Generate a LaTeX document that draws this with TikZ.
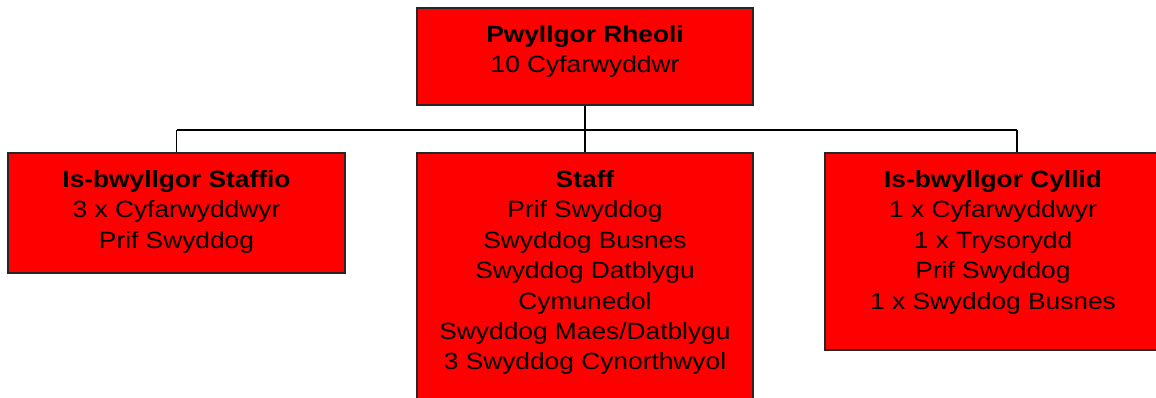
\documentclass[tikz,border=0pt]{standalone}
\usepackage{fontspec}
\setmainfont{Liberation Sans}[FakeStretch=1.12]
\begin{document}
\begin{tikzpicture}[x=1pt,y=-1pt,
  box/.style={draw=black!85,line width=1.6pt,fill=red,rectangle,inner sep=0pt},
  txt/.style={anchor=north,align=center,inner sep=0pt,font=\fontsize{23.5}{30.4}\selectfont},
  conn/.style={draw=black,line width=1.6pt}]
\clip (0,0) rectangle (1156,398);
\fill[white] (0,0) rectangle (1156,398);
\node[box,minimum width=336pt,minimum height=97pt] (top) at (585,56.5) {};
\node[box,minimum width=337pt,minimum height=120pt] (left) at (176.5,213) {};
\node[box,minimum width=336pt,minimum height=280pt] (mid) at (585,293) {};
\node[box,minimum width=336pt,minimum height=197pt] (right) at (993,251.5) {};
\coordinate (bar) at (585,130);
\coordinate (barL) at (176.5,130);
\coordinate (barR) at (1017,130);
\draw[conn] (top.south) -- (bar);
\draw[conn] (barL) -- (barR);
\draw[conn] (barL) -- (left.north);
\draw[conn] (bar) -- (mid.north);
\draw[conn] (barR) -- (barR |- right.north);
\node[txt] (ttop) at ([yshift=-18pt]top.north) {\textbf{Pwyllgor Rheoli}\\10 Cyfarwyddwr};
\node[txt] (tleft) at ([yshift=-18pt]left.north) {\textbf{Is-bwyllgor Staffio}\\3 x Cyfarwyddwyr\\Prif Swyddog};
\node[txt] (tmid) at ([yshift=-18pt]mid.north) {\textbf{Staff}\\Prif Swyddog\\Swyddog Busnes\\Swyddog Datblygu\\Cymunedol\\Swyddog Maes/Datblygu\\3 Swyddog Cynorthwyol};
\node[txt] (tright) at ([yshift=-18pt]right.north) {\textbf{Is-bwyllgor Cyllid}\\1 x Cyfarwyddwyr\\1 x Trysorydd\\Prif Swyddog\\1 x Swyddog Busnes};
\end{tikzpicture}
\end{document}
